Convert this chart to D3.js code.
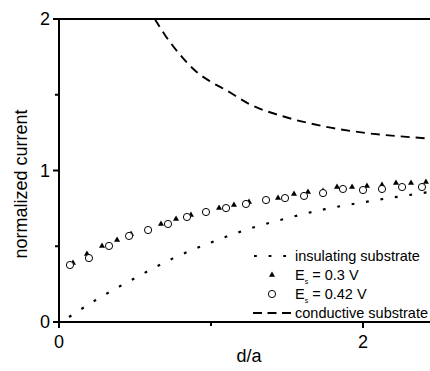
<!DOCTYPE html>
<html>
<head>
<meta charset="utf-8">
<script src="https://cdn.jsdelivr.net/npm/d3@7"></script>
<style>
  body { margin: 0; background: #fff; }
  svg { display: block; font-family: "Liberation Sans", Arial, sans-serif; }
</style>
</head>
<body>
<div id="chart"></div>
<script>
// theory curves (d/a, normalized current)
const insulatingX = [0.066, 0.25, 0.5, 0.75, 1.0, 1.25, 1.5, 1.75, 2.0, 2.25, 2.45];
const insulatingY = [0.033, 0.15, 0.29, 0.42, 0.525, 0.615, 0.685, 0.745, 0.79, 0.83, 0.86];
const conductiveX = [0.63, 0.7, 0.8, 0.9, 1.0, 1.1, 1.25, 1.5, 1.75, 2.0, 2.25, 2.45];
const conductiveY = [2.0, 1.89, 1.76, 1.655, 1.585, 1.53, 1.44, 1.35, 1.29, 1.25, 1.225, 1.21];

// measured approach curves
const es03X = [0.092, 0.184, 0.283, 0.382, 0.474, 0.671, 0.770, 0.868, 1.053, 1.151, 1.250, 1.441,
  1.546, 1.638, 1.737, 1.829, 1.928, 2.026, 2.125, 2.217, 2.316, 2.414];
const es03Y = [0.389, 0.449, 0.502, 0.541, 0.581, 0.647, 0.680, 0.706, 0.752, 0.772, 0.792, 0.818,
  0.845, 0.858, 0.865, 0.891, 0.891, 0.898, 0.904, 0.917, 0.917, 0.924];
const es042X = [0.072, 0.197, 0.329, 0.461, 0.586, 0.717, 0.842, 0.967, 1.099, 1.230, 1.362, 1.487,
  1.612, 1.737, 1.868, 2.0, 2.125, 2.257, 2.388];
const es042Y = [0.376, 0.422, 0.502, 0.568, 0.607, 0.647, 0.693, 0.726, 0.752, 0.779, 0.805, 0.818,
  0.832, 0.851, 0.878, 0.871, 0.878, 0.891, 0.891];

const xTicks = [0, 1, 2];
const xTickLabels = ["0", "", "2"];
const yTicks = [0, 0.5, 1, 1.5, 2];
const yTickLabels = ["0", "", "1", "", "2"];

const width = 430;
const height = 371;

const svg = d3.select("#chart")
  .append("svg")
  .attr("width", width)
  .attr("height", height);

svg.append("rect")
  .attr("width", width)
  .attr("height", height)
  .attr("fill", "#fff");

const x = d3.scaleLinear().domain([0, 2]).range([59, 363]);
const y = d3.scaleLinear().domain([0, 2]).range([322, 19]);
const xEnd = width;

const zip = (xs, ys) => xs.map((v, i) => [v, ys[i]]);

// frame (left, bottom, top)
const frame = svg.append("g")
  .attr("stroke", "#000")
  .attr("stroke-width", 2)
  .attr("fill", "none");

frame.append("line")
  .attr("x1", x(0)).attr("x2", x(0))
  .attr("y1", y(2) - 1).attr("y2", y(0) + 1);
frame.append("line")
  .attr("x1", x(0) - 1).attr("x2", xEnd)
  .attr("y1", y(0)).attr("y2", y(0));
frame.append("line")
  .attr("x1", x(0) - 1).attr("x2", xEnd)
  .attr("y1", y(2)).attr("y2", y(2));

// y ticks
frame.selectAll("line.ytick")
  .data(yTicks)
  .enter()
  .append("line")
  .attr("class", "ytick")
  .attr("x1", (d, i) => x(0) - (yTickLabels[i] ? 6 : 4))
  .attr("x2", x(0))
  .attr("y1", d => y(d))
  .attr("y2", d => y(d));

// x ticks
frame.selectAll("line.xtick")
  .data(xTicks)
  .enter()
  .append("line")
  .attr("class", "xtick")
  .attr("x1", d => x(d))
  .attr("x2", d => x(d))
  .attr("y1", y(0))
  .attr("y2", (d, i) => y(0) + (xTickLabels[i] ? 6 : 4));

svg.selectAll("text.ylab")
  .data(yTicks)
  .enter()
  .append("text")
  .attr("class", "ylab")
  .attr("x", x(0) - 9)
  .attr("y", d => y(d))
  .attr("dy", "0.35em")
  .attr("text-anchor", "end")
  .style("font-size", "18px")
  .text((d, i) => yTickLabels[i]);

svg.selectAll("text.xlab")
  .data(xTicks)
  .enter()
  .append("text")
  .attr("class", "xlab")
  .attr("x", d => x(d))
  .attr("y", 348)
  .attr("text-anchor", "middle")
  .style("font-size", "18px")
  .text((d, i) => xTickLabels[i]);

// axis titles
svg.append("text")
  .attr("x", 249)
  .attr("y", 362)
  .attr("text-anchor", "middle")
  .style("font-size", "18px")
  .text("d/a");

svg.append("text")
  .attr("transform", `translate(27,184) rotate(-90)`)
  .attr("text-anchor", "middle")
  .style("font-size", "18px")
  .text("normalized current");

// theory lines
const line = d3.line()
  .x(d => x(d[0]))
  .y(d => y(d[1]))
  .curve(d3.curveMonotoneX);

svg.append("path")
  .datum(zip(insulatingX, insulatingY))
  .attr("d", line)
  .attr("fill", "none")
  .attr("stroke", "#000")
  .attr("stroke-width", 2.2)
  .attr("stroke-dasharray", "2.8,11.8");

svg.append("path")
  .datum(zip(conductiveX, conductiveY))
  .attr("d", line)
  .attr("fill", "none")
  .attr("stroke", "#000")
  .attr("stroke-width", 1.9)
  .attr("stroke-dasharray", "9,6");

// data points
const tri = d3.symbol().type(d3.symbolTriangle).size(16);

svg.selectAll("path.es03")
  .data(zip(es03X, es03Y))
  .enter()
  .append("path")
  .attr("class", "es03")
  .attr("d", tri)
  .attr("transform", d => `translate(${x(d[0])},${y(d[1])})`)
  .attr("fill", "#000");

svg.selectAll("circle.es042")
  .data(zip(es042X, es042Y))
  .enter()
  .append("circle")
  .attr("class", "es042")
  .attr("cx", d => x(d[0]))
  .attr("cy", d => y(d[1]))
  .attr("r", 3.6)
  .attr("fill", "#fff")
  .attr("stroke", "#000")
  .attr("stroke-width", 1);

// legend
const legend = svg.append("g").style("font-size", "14.5px");
const textX = 295;
const rows = [256, 275, 294, 313];

legend.append("line")
  .attr("x1", 254).attr("x2", 290)
  .attr("y1", rows[0]).attr("y2", rows[0])
  .attr("stroke", "#000")
  .attr("stroke-width", 2.2)
  .attr("stroke-dasharray", "2.8,11.8");

legend.append("path")
  .attr("d", tri)
  .attr("transform", `translate(272,${rows[1]})`)
  .attr("fill", "#000");

legend.append("circle")
  .attr("cx", 272)
  .attr("cy", rows[2])
  .attr("r", 3.6)
  .attr("fill", "#fff")
  .attr("stroke", "#000");

legend.append("line")
  .attr("x1", 253).attr("x2", 291)
  .attr("y1", rows[3]).attr("y2", rows[3])
  .attr("stroke", "#000")
  .attr("stroke-width", 1.9)
  .attr("stroke-dasharray", "9,5.5");

legend.append("text")
  .attr("x", textX).attr("y", rows[0]).attr("dy", "0.35em")
  .text("insulating substrate");

const esLabel = (row, value) => {
  const t = legend.append("text")
    .attr("x", textX).attr("y", row).attr("dy", "0.35em");
  t.append("tspan").text("E");
  t.append("tspan")
    .attr("dy", 4)
    .style("font-size", "7px")
    .text("s");
  t.append("tspan")
    .attr("dy", -4)
    .text(` = ${value} V`);
};
esLabel(rows[1], "0.3");
esLabel(rows[2], "0.42");

legend.append("text")
  .attr("x", textX).attr("y", rows[3]).attr("dy", "0.35em")
  .text("conductive substrate");
</script>
</body>
</html>
